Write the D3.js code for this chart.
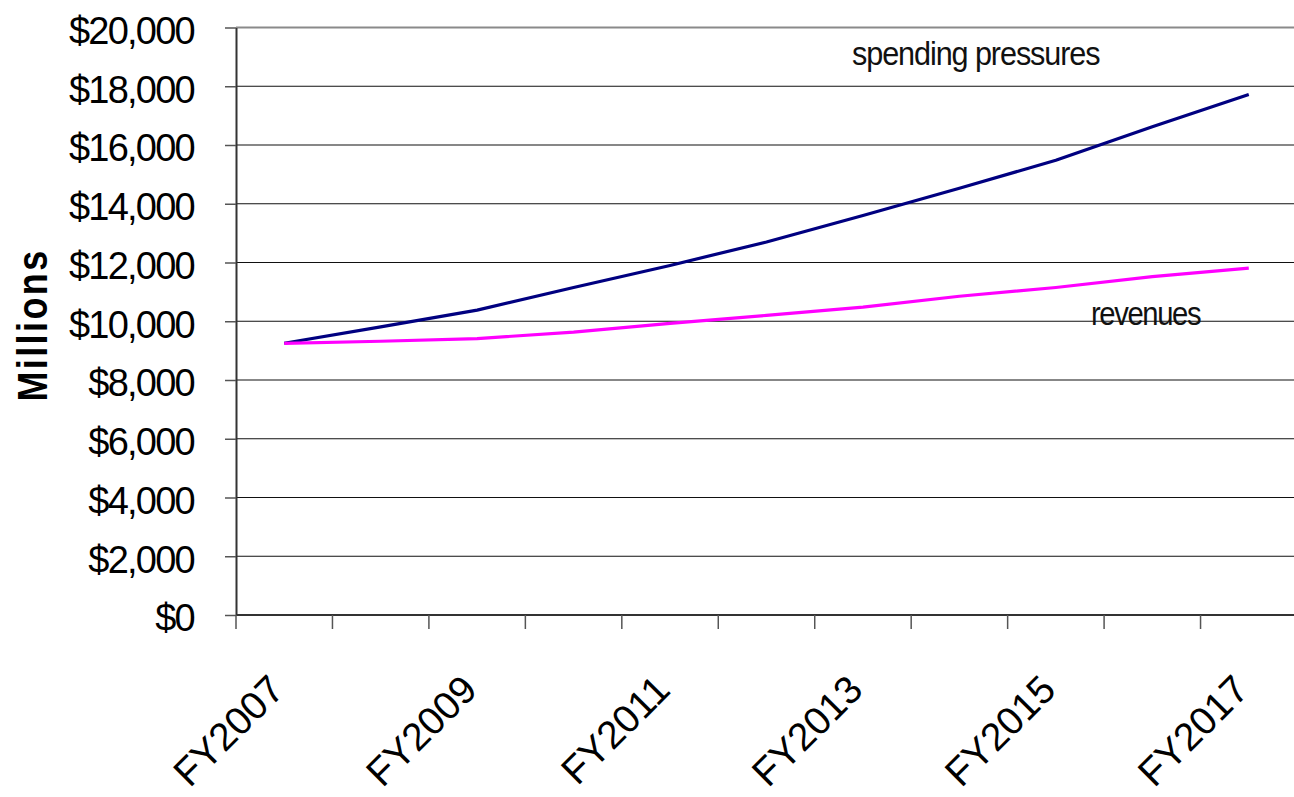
<!DOCTYPE html>
<html>
<head>
<meta charset="utf-8">
<script src="https://cdn.jsdelivr.net/npm/d3@7"></script>
<style>
	body { margin: 0; background: #fff; }
	svg { display: block; font-family: "Liberation Sans", Arial, sans-serif; }
</style>
</head>
<body>
<div id="chart"></div>
<script>
// values, $ millions
var years = ["FY2007", "FY2008", "FY2009", "FY2010", "FY2011", "FY2012",
	"FY2013", "FY2014", "FY2015", "FY2016", "FY2017"];
var spending = [9250, 9810, 10380, 11150, 11900, 12700, 13600, 14530, 15480, 16620, 17720];
var revenues = [9250, 9320, 9410, 9630, 9930, 10200, 10480, 10850, 11150, 11520, 11810];
var yTickValues = [0, 2000, 4000, 6000, 8000, 10000, 12000, 14000, 16000, 18000, 20000];
var xLabels = ["FY2007", "FY2009", "FY2011", "FY2013", "FY2015", "FY2017"];

var series = [
	{ name: "spending pressures", values: spending, color: "#000080" },
	{ name: "revenues", values: revenues, color: "#ff00ff" }
];

var options = {
	container: { width: 1294, height: 797 },
	margin: { top: 27.5, right: -3, bottom: 182, left: 236 }
};

var width = options.container.width - options.margin.left - options.margin.right,
	height = options.container.height - options.margin.top - options.margin.bottom;

var svg = d3.select("#chart").append("svg")
	.attr("width", options.container.width)
	.attr("height", options.container.height);

svg.append("rect")
	.attr("width", options.container.width)
	.attr("height", options.container.height)
	.attr("fill", "#fff");

var g = svg.append("g")
	.attr("transform", "translate(" + options.margin.left + "," + options.margin.top + ")");

var x = d3.scaleBand().domain(years).range([0, width]);
var y = d3.scaleLinear().domain([0, 20000]).range([height, 0]);

var cx = function(yr) { return x(yr) + x.bandwidth() / 2; };

// horizontal grid lines
g.selectAll("line.grid")
	.data(yTickValues.filter(function(d) { return d > 0; }))
	.enter().append("line")
	.attr("class", "grid")
	.attr("x1", 0)
	.attr("x2", width)
	.attr("y1", function(d) { return y(d); })
	.attr("y2", function(d) { return y(d); })
	.attr("stroke", function(d) { return d === 20000 ? "#8a8a8a" : "#111"; })
	.attr("stroke-width", function(d) { return d === 20000 ? 2.2 : 1.2; });

// y axis
var yAxis = g.append("g")
	.attr("class", "axis axis--y")
	.call(d3.axisLeft(y)
		.tickValues(yTickValues)
		.tickSizeInner(11)
		.tickSizeOuter(0)
		.tickPadding(31)
		.tickFormat(function(d) { return "$" + d3.format(",")(d); }));

yAxis.select(".domain").attr("stroke", "#333").attr("stroke-width", 2);
yAxis.selectAll(".tick line").attr("stroke", "#555").attr("stroke-width", 1.5);
yAxis.selectAll(".tick text")
	.attr("dy", "0.42em")
	.style("font-size", "38px")
	.style("letter-spacing", "-1.75px")
	.attr("fill", "#000");

// x axis line and category boundary ticks
g.append("line")
	.attr("x1", 0)
	.attr("x2", width)
	.attr("y1", height)
	.attr("y2", height)
	.attr("stroke", "#333")
	.attr("stroke-width", 2);

var edges = years.map(function(d) { return x(d); }).concat([x.range()[1]]);

g.selectAll("line.xtick")
	.data(edges)
	.enter().append("line")
	.attr("class", "xtick")
	.attr("x1", function(d) { return d; })
	.attr("x2", function(d) { return d; })
	.attr("y1", height)
	.attr("y2", height + 14)
	.attr("stroke", "#555")
	.attr("stroke-width", 1.5);

g.selectAll("text.xlabel")
	.data(xLabels)
	.enter().append("text")
	.attr("class", "xlabel")
	.attr("text-anchor", "end")
	.attr("transform", function(d) { return "translate(" + (cx(d) + 2) + "," + (height + 77) + ") rotate(-45)"; })
	.style("font-size", "39px")
	.attr("fill", "#000")
	.text(function(d) { return d; });

// lines
var line = d3.line()
	.x(function(d, i) { return cx(years[i]); })
	.y(function(d) { return y(d); });

g.selectAll(".series")
	.data(series)
	.enter().append("path")
	.attr("class", "series")
	.attr("d", function(d) { return line(d.values); })
	.attr("fill", "none")
	.attr("stroke", function(d) { return d.color; })
	.attr("stroke-width", 3.2)
	.attr("stroke-linejoin", "round");

// series labels
svg.append("g")
	.attr("transform", "translate(852,65) scale(0.9,1)")
	.append("text")
	.style("font-size", "34px")
	.style("letter-spacing", "-1.2px")
	.attr("fill", "#111")
	.text("spending pressures");

svg.append("g")
	.attr("transform", "translate(1091,325) scale(0.86,1)")
	.append("text")
	.style("font-size", "34px")
	.style("letter-spacing", "-1.6px")
	.attr("fill", "#111")
	.text("revenues");

// axis title
svg.append("text")
	.attr("transform", "translate(47,325) rotate(-90) scale(1,1.2)")
	.attr("text-anchor", "middle")
	.style("font-size", "36px")
	.style("font-weight", "bold")
	.style("letter-spacing", "2.4px")
	.attr("fill", "#000")
	.text("Millions");
</script>
</body>
</html>
